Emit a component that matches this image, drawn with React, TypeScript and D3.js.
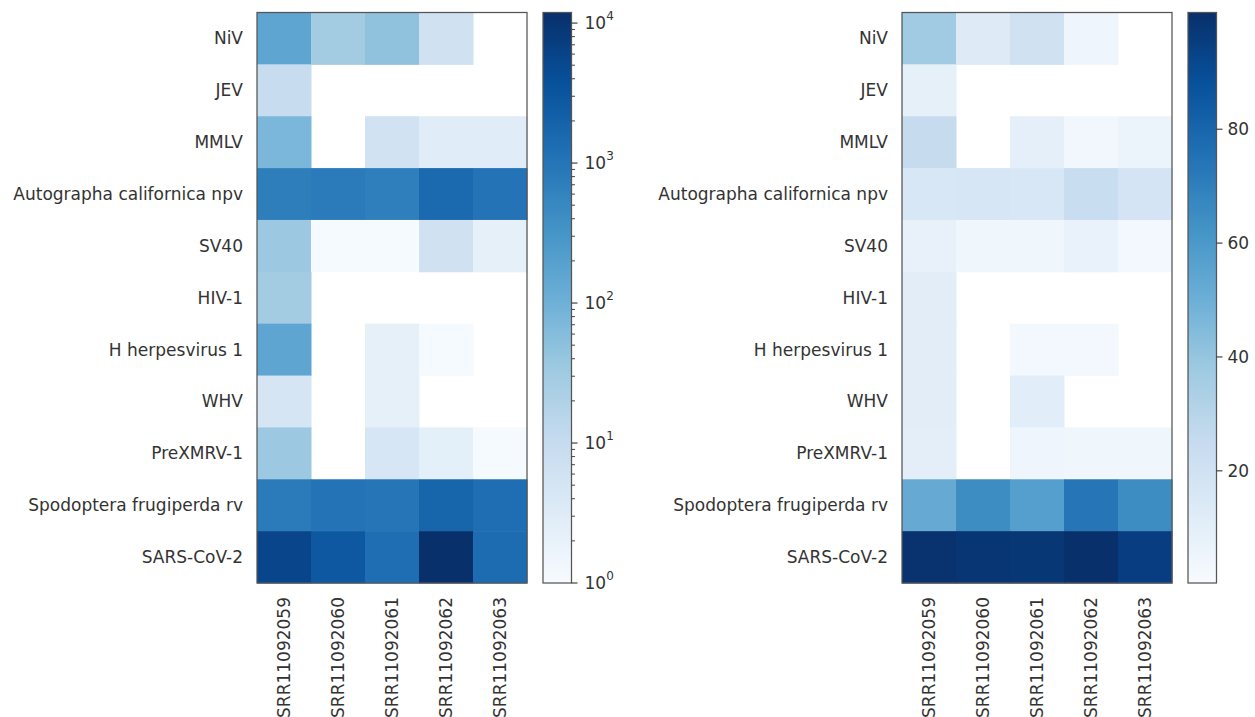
import React from "react";
import * as d3 from "d3";

const samples = ["SRR11092059", "SRR11092060", "SRR11092061", "SRR11092062", "SRR11092063"];
const viruses = [
  "NiV",
  "JEV",
  "MMLV",
  "Autographa californica npv",
  "SV40",
  "HIV-1",
  "H herpesvirus 1",
  "WHV",
  "PreXMRV-1",
  "Spodoptera frugiperda rv",
  "SARS-CoV-2",
];

// left panel: read counts (log colour scale), null = nothing found
const readCounts: (number | null)[][] = [
  [160, 29, 47, 6.5, null],
  [10, null, null, null, null],
  [75, null, 6, 3, 3],
  [710, 790, 700, 1500, 1050],
  [35, 1.1, 1.1, 6.5, 2.3],
  [29, null, null, null, null],
  [160, null, 2.3, 1.1, null],
  [5, null, 2.3, null, null],
  [35, null, 4.5, 2.5, 1.1],
  [800, 1050, 1000, 1800, 1250],
  [5600, 2900, 1250, 11900, 1400],
];

// right panel: share of reads (linear colour scale)
const readShare: (number | null)[][] = [
  [37, 13, 20, 5, null],
  [9, null, null, null, null],
  [25, null, 10, 3.5, 6],
  [16, 17, 16, 24, 18],
  [8, 4.5, 4.5, 7.5, 3],
  [11, null, null, null, null],
  [11, null, 3, 3, null],
  [11, null, 11.5, null, null],
  [10.5, null, 5, 4.5, 4.5],
  [52, 65, 57, 74, 65],
  [99.5, 98.5, 98, 100.5, 95],
];

const countRange = [1, 11900];
const shareRange = [0.3, 100.5];
const shareTicks = [20, 40, 60, 80];
const countTicks = [1, 10, 100, 1000, 10000];

const blues = d3
  .scaleLinear<string>()
  .domain(d3.range(9).map((i) => i / 8))
  .range(d3.schemeBlues[9] as string[])
  .interpolate(d3.interpolateRgb)
  .clamp(true);

const top = 12.5;
const bottom = 583;
const font = "DejaVu Sans, sans-serif";
const textColor = "#333";
const spine = "#555";

type Panel = {
  x0: number;
  data: (number | null)[][];
  norm: (v: number) => number;
  cbX: number;
  id: string;
  log: boolean;
};

function Heatmap({ x0, data, norm }: { x0: number; data: (number | null)[][]; norm: (v: number) => number }) {
  const x = d3.scaleBand().domain(samples).range([x0, x0 + 270]);
  const y = d3.scaleBand().domain(viruses).range([top, bottom]);
  return (
    <g>
      {data.map((row, i) =>
        row.map((v, j) =>
          v == null ? null : (
            <rect
              key={`${i}-${j}`}
              x={x(samples[j])}
              y={y(viruses[i])}
              width={x.bandwidth() + 0.5}
              height={y.bandwidth() + 0.5}
              fill={blues(norm(v))}
            />
          )
        )
      )}
      <rect x={x0} y={top} width={270} height={bottom - top} fill="none" stroke={spine} strokeWidth={1.25} />
      {viruses.map((name) => (
        <text
          key={name}
          x={x0 - 14}
          y={(y(name) as number) + y.bandwidth() / 2}
          textAnchor="end"
          dominantBaseline="central"
          fontFamily={font}
          fontSize={17}
          fill={textColor}
        >
          {name}
        </text>
      ))}
      {samples.map((s) => (
        <text
          key={s}
          transform={`translate(${(x(s) as number) + x.bandwidth() / 2},${bottom + 14}) rotate(-90)`}
          textAnchor="end"
          dominantBaseline="central"
          fontFamily={font}
          fontSize={17}
          fill={textColor}
        >
          {s}
        </text>
      ))}
    </g>
  );
}

function Colorbar({ cbX, id, log }: { cbX: number; id: string; log: boolean }) {
  const w = 28.5;
  const stops = d3.range(0, 65).map((i) => i / 64);
  const right = cbX + w;
  let ticks: React.ReactNode[] = [];
  if (log) {
    const s = d3.scaleLog().domain(countRange).range([bottom, top]);
    const minor: number[] = [];
    for (let k = 0; k <= 4; k++) {
      for (let m = 2; m <= 9; m++) {
        const v = m * Math.pow(10, k);
        if (v <= countRange[1]) minor.push(v);
      }
    }
    ticks = [
      ...minor.map((v) => (
        <line key={`m${v}`} x1={right} x2={right + 3.5} y1={s(v)} y2={s(v)} stroke={textColor} strokeWidth={0.9} />
      )),
      ...countTicks.map((v, k) => (
        <g key={`t${v}`}>
          <line x1={right} x2={right + 6} y1={s(v)} y2={s(v)} stroke={textColor} strokeWidth={1.1} />
          <text x={right + 13} y={s(v)} dominantBaseline="central" fontFamily={font} fontSize={17} fill={textColor}>
            10
            <tspan dy={-7} fontSize={12}>
              {k}
            </tspan>
          </text>
        </g>
      )),
    ];
  } else {
    const s = d3.scaleLinear().domain(shareRange).range([bottom, top]);
    ticks = shareTicks.map((v) => (
      <g key={`t${v}`}>
        <line x1={right} x2={right + 6} y1={s(v)} y2={s(v)} stroke={textColor} strokeWidth={1.1} />
        <text x={right + 11} y={s(v)} dominantBaseline="central" fontFamily={font} fontSize={17} fill={textColor}>
          {v}
        </text>
      </g>
    ));
  }
  return (
    <g>
      <defs>
        <linearGradient id={id} x1="0" y1="1" x2="0" y2="0">
          {stops.map((t) => (
            <stop key={t} offset={t} stopColor={blues(t)} />
          ))}
        </linearGradient>
      </defs>
      <rect x={cbX} y={top} width={w} height={bottom - top} fill={`url(#${id})`} stroke={spine} strokeWidth={1.25} />
      {ticks}
    </g>
  );
}

export default function App() {
  const logNorm = d3.scaleLog().domain(countRange).range([0, 1]).clamp(true);
  const linNorm = d3.scaleLinear().domain(shareRange).range([0, 1]).clamp(true);
  const panels: Panel[] = [
    { x0: 257, data: readCounts, norm: (v) => logNorm(v), cbX: 543, id: "cbLog", log: true },
    { x0: 902, data: readShare, norm: (v) => linNorm(v), cbX: 1188, id: "cbLin", log: false },
  ];
  return (
    <svg width={1255} height={717} style={{ position: "absolute", left: 0, top: 0, background: "#fff" }}>
      {panels.map((p) => (
        <g key={p.id}>
          <Heatmap x0={p.x0} data={p.data} norm={p.norm} />
          <Colorbar cbX={p.cbX} id={p.id} log={p.log} />
        </g>
      ))}
    </svg>
  );
}
